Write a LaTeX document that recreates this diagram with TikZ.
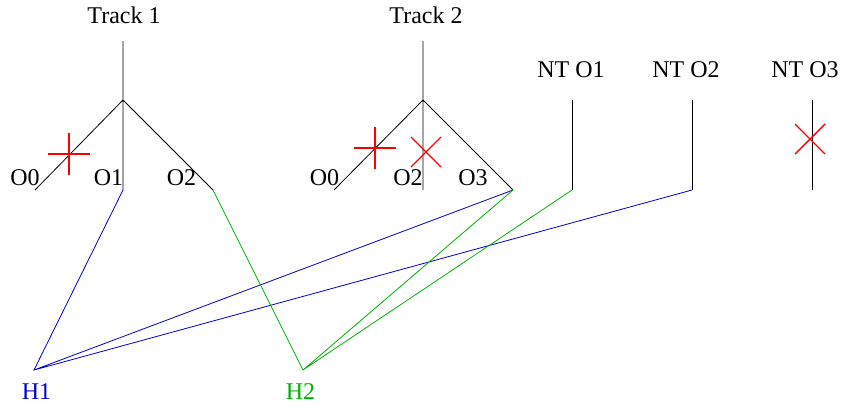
\documentclass[tikz,border=0pt]{standalone}
\usepackage{fontspec}
\setmainfont{Liberation Serif}
\usepackage{tikz}
\definecolor{hblue}{RGB}{0,0,205}
\definecolor{hgreen}{RGB}{0,178,0}
\begin{document}
\begin{tikzpicture}[x=1pt,y=-1pt,line width=0.8pt]
\tikzset{lbl/.style={anchor=base,inner sep=0pt,font=\fontsize{24}{28}\selectfont},
  cut/.style={red,line width=1.4pt},
  hit1/.style={hblue},hit2/.style={hgreen}}
\useasboundingbox (0,0) rectangle (843,407);
% track 1
\node[lbl] (tr1) at (124,23) {Track 1};
\coordinate (t1) at (123,41);
\coordinate (v1) at (123,100);
\coordinate (a0) at (35,190);
\coordinate (a1) at (123,190);
\coordinate (a2) at (213,190);
\draw (t1)--(a1) (v1)--(a0) (v1)--(a2);
\node[lbl] (la0) at (25,185) {O0};
\node[lbl] (la1) at (108.5,185) {O1};
\node[lbl] (la2) at (181.5,185) {O2};
\draw[cut] (69,133)--(69,175) (48,154)--(90,154);
% track 2
\node[lbl] (tr2) at (426,23) {Track 2};
\coordinate (t2) at (423,41);
\coordinate (v2) at (423,100);
\coordinate (b0) at (334,190);
\coordinate (b2) at (423,190);
\coordinate (b3) at (513,190);
\draw (t2)--(b2) (v2)--(b0) (v2)--(b3);
\node[lbl] (lb0) at (324.5,185) {O0};
\node[lbl] (lb2) at (408,185) {O2};
\node[lbl] (lb3) at (473,185) {O3};
\draw[cut] (375,127)--(375,169) (354,148)--(396,148);
\draw[cut] (411,137)--(441,167) (411,167)--(441,137);
% no-track objects
\node[lbl] (nt1) at (571,77) {NT O1};
\node[lbl] (nt2) at (686,77) {NT O2};
\node[lbl] (nt3) at (805,77) {NT O3};
\coordinate (n1t) at (572,100);
\coordinate (n1) at (572,190);
\coordinate (n2t) at (692,100);
\coordinate (n2) at (692,190);
\coordinate (n3t) at (812,100);
\coordinate (n3) at (812,190);
\draw (n1t)--(n1) (n2t)--(n2) (n3t)--(n3);
\draw[cut] (795,124)--(825,154) (795,154)--(825,124);
% hypotheses
\coordinate (h1) at (34,370);
\coordinate (h2) at (303,370);
\node[lbl,text=hblue] (lh1) at (36.5,399) {H1};
\node[lbl,text=hgreen] (lh2) at (300.5,399) {H2};
\draw[hit1] (a1)--(h1)--(b3) (h1)--(n2);
\draw[hit2] (a2)--(h2)--(b3) (h2)--(n1);
\end{tikzpicture}
\end{document}
